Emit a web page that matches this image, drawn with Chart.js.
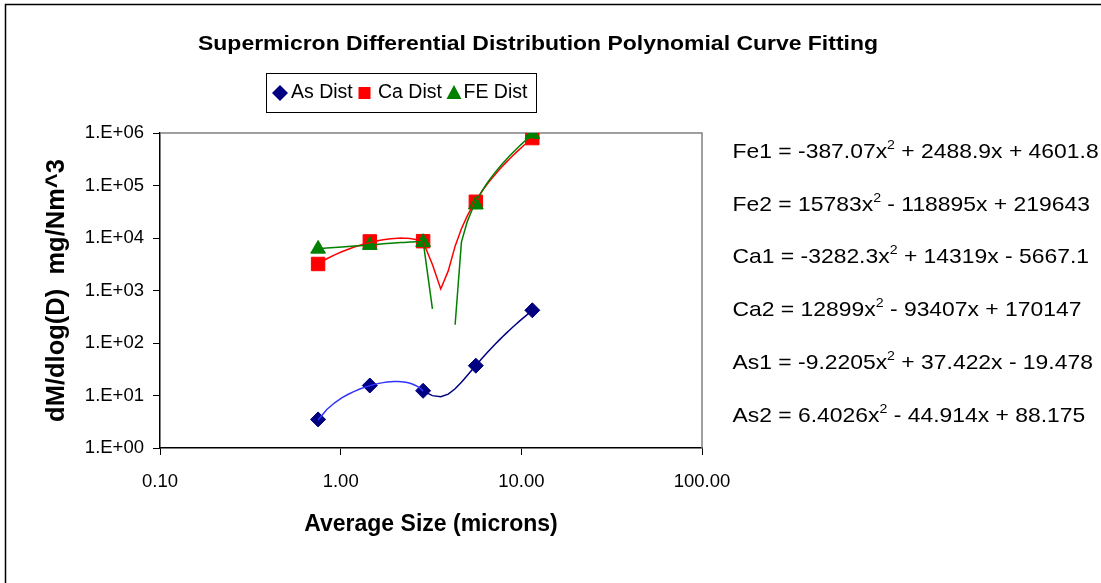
<!DOCTYPE html>
<html>
<head>
<meta charset="utf-8">
<title>Supermicron Differential Distribution</title>
<script src="https://cdn.jsdelivr.net/npm/chart.js@4/dist/chart.umd.min.js"></script>
<style>
  html, body { margin: 0; padding: 0; background: #fff; }
  canvas { display: block; }
</style>
</head>
<body>
<canvas id="distChart" width="1101" height="583"></canvas>
<script>
// measured distributions, average size in microns
const sizes = [0.75, 1.45, 2.86, 5.6, 11.5];
const asDist = [3.5, 15.5, 12.3, 37, 420];
const caDist = [3200, 8600, 8700, 49000, 800000];
const feDist = [6200, 7300, 8300, 43000, 950000];

const xTicks = [0.1, 1, 10, 100];
const yTicks = [1, 10, 100, 1e3, 1e4, 1e5, 1e6];

// 2nd order polynomial fits: coef = [a, b, c] for a*x^2 + b*x + c,
// each fitted between two of the sizes above
const fitNames = ['Fe1', 'Fe2', 'Ca1', 'Ca2', 'As1', 'As2'];
const fitCoefs = [
  [-387.07, 2488.9, 4601.8],
  [15783, -118895, 219643],
  [-3282.3, 14319, -5667.1],
  [12899, -93407, 170147],
  [-9.2205, 37.422, -19.478],
  [6.4026, -44.914, 88.175]
];
const fitRanges = [[0, 2], [2, 4], [0, 2], [2, 4], [0, 2], [2, 4]];
const fitColors = ['#008000', '#008000', '#ff0000', '#ff0000', '#3333ff', '#000080'];
const trendSteps = 24;

const FONT = "'Liberation Sans', Arial, sans-serif";

function trendPoints(i) {
  const [a, b, c] = fitCoefs[i];
  const x0 = sizes[fitRanges[i][0]];
  const x1 = sizes[fitRanges[i][1]];
  const pts = [];
  for (let k = 0; k <= trendSteps; k++) {
    const x = x0 + (x1 - x0) * k / trendSteps;
    const y = a * x * x + b * x + c;
    // a log axis can't show the part that goes below zero
    pts.push({ x: x, y: y > 0 ? y : null });
  }
  return pts;
}

function pairs(ys) {
  return sizes.map((x, i) => ({ x: x, y: ys[i] }));
}

const trendSets = fitNames.map((name, i) => ({
  label: name,
  data: trendPoints(i),
  showLine: true,
  borderColor: fitColors[i],
  borderWidth: 1.5,
  pointRadius: 0,
  spanGaps: false,
  order: 0
}));

const seriesSets = [
  { label: 'FE Dist', data: pairs(feDist), pointStyle: 'triangle', pointRadius: 8.5,
    backgroundColor: '#008000', borderColor: '#008000', order: 1 },
  { label: 'Ca Dist', data: pairs(caDist), pointStyle: 'rect', pointRadius: 9.5,
    backgroundColor: '#ff0000', borderColor: '#ff0000', order: 2 },
  { label: 'As Dist', data: pairs(asDist), pointStyle: 'rectRot', pointRadius: 7.5,
    backgroundColor: '#000080', borderColor: '#000080', order: 3 }
].map(d => Object.assign({ showLine: false, borderWidth: 1, pointHoverRadius: d.pointRadius }, d));

function equationText(i) {
  const [a, b, c] = fitCoefs[i];
  const sign = v => (v < 0 ? '- ' : '+ ');
  return [fitNames[i] + ' = ' + a + 'x', ' ' + sign(b) + Math.abs(b) + 'x ' + sign(c) + Math.abs(c)];
}

// text drawn a little wider than the font's own width
function wideText(ctx, text, x, y, sx) {
  ctx.save();
  ctx.translate(x, y);
  ctx.scale(sx, 1);
  ctx.fillText(text, 0, 0);
  ctx.restore();
  return ctx.measureText(text).width * sx;
}

// title, legend box, equations and frame are drawn straight on the canvas
const decor = {
  id: 'decor',
  beforeDraw(chart) {
    const ctx = chart.ctx;
    ctx.save();
    ctx.fillStyle = '#fff';
    ctx.fillRect(0, 0, chart.width, chart.height);
    ctx.strokeStyle = '#000';
    ctx.lineWidth = 1.5;
    ctx.strokeRect(5.5, 4.5, chart.width + 20, chart.height + 20);
    ctx.restore();
  },
  beforeDatasetsDraw(chart) {
    const { ctx, chartArea: a } = chart;
    ctx.save();
    ctx.strokeStyle = '#808080';
    ctx.lineWidth = 1.5;
    ctx.beginPath();
    ctx.moveTo(a.left, a.top);
    ctx.lineTo(a.right, a.top);
    ctx.lineTo(a.right, a.bottom);
    ctx.stroke();
    ctx.restore();
  },
  afterDraw(chart) {
    const ctx = chart.ctx;
    ctx.save();
    ctx.fillStyle = '#000';
    ctx.textBaseline = 'alphabetic';

    ctx.font = 'bold 20.5px ' + FONT;
    ctx.textAlign = 'center';
    wideText(ctx, 'Supermicron Differential Distribution Polynomial Curve Fitting', 538, 50, 1.12);

    // legend
    ctx.textAlign = 'left';
    ctx.strokeStyle = '#000';
    ctx.lineWidth = 1;
    ctx.strokeRect(266.5, 73.5, 270, 39);
    ctx.font = '19.5px ' + FONT;
    const ly = 93;
    ctx.fillStyle = '#000080';
    ctx.beginPath();
    ctx.moveTo(280, ly - 8); ctx.lineTo(288, ly); ctx.lineTo(280, ly + 8); ctx.lineTo(272, ly);
    ctx.closePath(); ctx.fill();
    ctx.fillStyle = '#ff0000';
    ctx.fillRect(358.5, ly - 6, 12, 12);
    ctx.fillStyle = '#008000';
    ctx.beginPath();
    ctx.moveTo(454, ly - 8); ctx.lineTo(461.5, ly + 6); ctx.lineTo(446.5, ly + 6);
    ctx.closePath(); ctx.fill();
    ctx.fillStyle = '#000';
    ctx.fillText('As Dist', 291, 98);
    ctx.fillText('Ca Dist', 378, 98);
    ctx.fillText('FE Dist', 463.5, 98);

    // fitted equations
    const eqY = [157.5, 210.5, 263, 316, 369, 422];
    const sx = 1.09;
    fitNames.forEach((n, i) => {
      const [head, tail] = equationText(i);
      let x = 732.5;
      ctx.font = '21px ' + FONT;
      x += wideText(ctx, head, x, eqY[i], sx);
      ctx.font = '13px ' + FONT;
      x += wideText(ctx, '2', x, eqY[i] - 9, sx);
      ctx.font = '21px ' + FONT;
      wideText(ctx, tail, x, eqY[i], sx);
    });
    ctx.restore();
  }
};

const tickFont = { family: FONT, size: 18.5 };

new Chart(document.getElementById('distChart'), {
  type: 'scatter',
  data: { datasets: trendSets.concat(seriesSets) },
  options: {
    responsive: false,
    animation: false,
    layout: { padding: { top: 133, right: 399, bottom: 0, left: 0 } },
    plugins: {
      legend: { display: false },
      title: { display: false },
      tooltip: { enabled: false }
    },
    scales: {
      x: {
        type: 'logarithmic',
        min: 0.1,
        max: 100,
        afterBuildTicks: s => { s.ticks = xTicks.map(v => ({ value: v })); },
        afterFit: s => { s.height = 135; },
        grid: { drawOnChartArea: false, tickLength: 7, color: '#000' },
        border: { color: '#000', width: 1.5 },
        ticks: {
          callback: v => Number(v).toFixed(2),
          color: '#000',
          font: tickFont,
          padding: 16,
          maxRotation: 0,
          autoSkip: false
        },
        title: {
          display: true,
          text: 'Average Size (microns)',
          color: '#000',
          font: { family: FONT, size: 23, weight: 'bold' },
          padding: { top: 0, bottom: 45 }
        }
      },
      y: {
        type: 'logarithmic',
        min: 1,
        max: 1e6,
        afterBuildTicks: s => { s.ticks = yTicks.map(v => ({ value: v })); },
        afterFit: s => { s.width = 160; },
        grid: { drawOnChartArea: false, tickLength: 7, color: '#000' },
        border: { color: '#000', width: 1.5 },
        ticks: {
          callback: v => '1.E+' + String(Math.round(Math.log10(v))).padStart(2, '0'),
          color: '#000',
          font: tickFont,
          padding: 9,
          autoSkip: false
        },
        title: {
          display: true,
          text: 'dM/dlog(D)  mg/Nm^3',
          color: '#000',
          font: { family: FONT, size: 25.5, weight: 'bold' },
          padding: { top: 42, bottom: 0 }
        }
      }
    }
  },
  plugins: [decor]
});
</script>
</body>
</html>
